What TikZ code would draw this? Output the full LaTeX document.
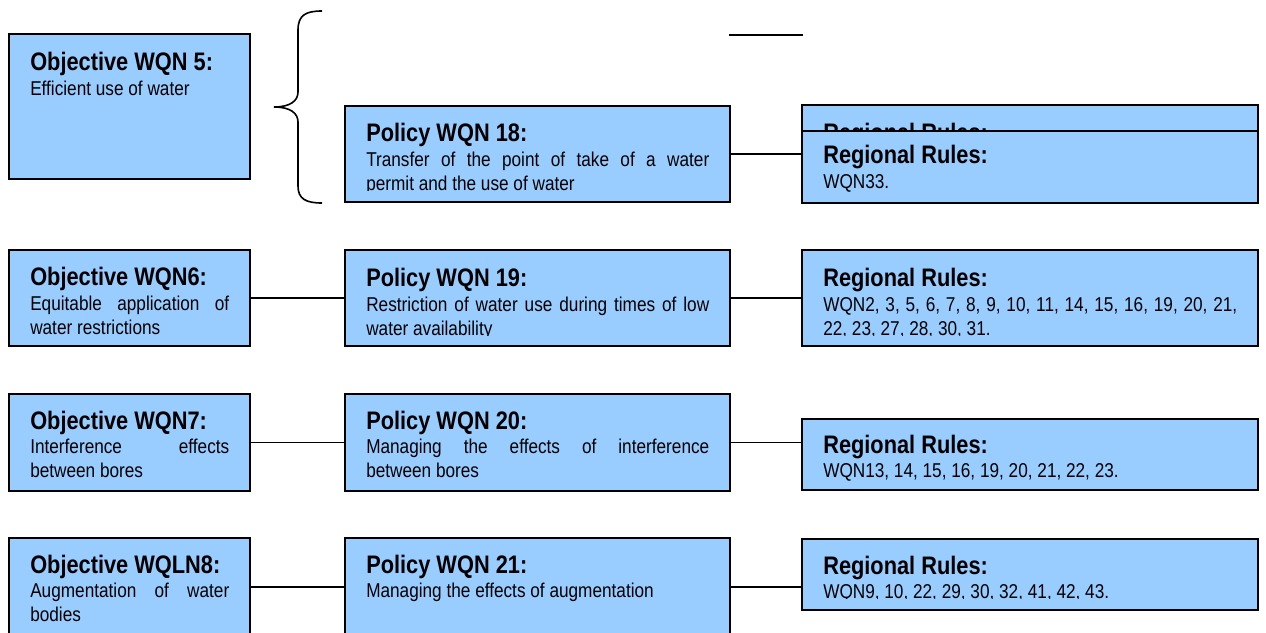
\documentclass[tikz,border=0pt]{standalone}
\usepackage{fontspec}
\setmainfont{Liberation Sans}[FakeStretch=0.86]
\usetikzlibrary{fit,calc}

\definecolor{cardblue}{RGB}{153,204,255}
\newcommand\cardhead{\bfseries\fontsize{19}{22}\selectfont}
\newcommand\cardbody{\fontsize{15}{18.2}\selectfont}

% Text of one card, clipped to the card's inner frame.
% #1 card node, #2 heading baseline below the top, #3 text width,
% #4 bottom inset of the frame, #5 heading, #6 body
\newcommand\cardtext[6]{%
  \begin{scope}
    \clip ($(#1.south west)+(0,-#4)$) rectangle (#1.north east);
    \node[headline] (#1-head) at ($(#1.north west)+(21,#2)$) {#5};
    \node[bodytext,text width=#3] (#1-body) at ($(#1.north west)+(21,#2+24.5)$) {#6};
  \end{scope}}

\tikzset{
  card/.style={draw=black, fill=cardblue, line width=1.5pt, inner sep=0pt, outer sep=0pt},
  headline/.style={anchor=base west, inner sep=0pt, font=\cardhead},
  bodytext/.style={anchor=base west, inner sep=0pt, font=\cardbody, align=justify},
  link/.style={draw=black, line width=1.2pt},
}

\begin{document}
\begin{tikzpicture}[x=0.75pt, y=-0.75pt]
  \useasboundingbox (0,0) rectangle (1266,632);
  \clip (0,0) rectangle (1266,632);

  % ---- objective WQN 5 and its brace
  \node[card, fit={(9,34)(250,179)}] (o5) {};
  \cardtext{o5}{36.5}{149.25pt}{8}{Objective WQN 5:}{Efficient use of water}

  \draw[line width=1.2pt] (322,11) .. controls (306,11) and (298,15) .. (298,30)
    -- (298,92) .. controls (298,101) and (290,107) .. (274,107)
    .. controls (290,107) and (298,113) .. (298,122)
    -- (298,186) .. controls (298,199) and (306,203) .. (322,203);

  \coordinate (s1) at (729,35);
  \coordinate (s2) at (803,35);
  \draw[link] (s1) -- (s2);

  % ---- policy WQN 18
  \node[card, fit={(345,106)(730,202)}] (p18) {};
  \cardtext{p18}{35.5}{257.25pt}{11.5}{Policy WQN 18:}{Transfer of the point of take of a water\linebreak permit and the use of water}

  \node[card, fit={(802,105)(1258,180)}] (r18a) {};
  \cardtext{r18a}{36}{310.5pt}{8}{Regional Rules:}{}
  \node[card, fit={(802,131)(1258,203)}] (r18) {};
  \cardtext{r18}{32.5}{310.5pt}{8}{Regional Rules:}{WQN33.}
  \draw[link] (p18.east) -- (p18.east -| r18.west);

  % ---- objective WQN 6
  \node[card, fit={(9,250)(250,346)}] (o6) {};
  \cardtext{o6}{35.5}{149.25pt}{8}{Objective WQN6:}{Equitable application of\linebreak water restrictions}
  \node[card, fit={(345,250)(730,346)}] (p19) {};
  \cardtext{p19}{36.5}{257.25pt}{10.5}{Policy WQN 19:}{Restriction of water use during times of low\linebreak water availability}
  \node[card, fit={(802,250)(1258,346)}] (r19) {};
  \cardtext{r19}{36.5}{310.5pt}{10.5}{Regional Rules:}{WQN2, 3, 5, 6, 7, 8, 9, 10, 11, 14, 15, 16, 19, 20, 21,\linebreak 22, 23, 27, 28, 30, 31.}
  \draw[link] (o6.east) -- (p19.west);
  \draw[link] (p19.east) -- (r19.west);

  % ---- objective WQN 7
  \node[card, fit={(9,394)(250,491)}] (o7) {};
  \cardtext{o7}{35}{149.25pt}{8}{Objective WQN7:}{Interference effects\linebreak between bores}
  \node[card, fit={(345,394)(730,491)}] (p20) {};
  \cardtext{p20}{35}{257.25pt}{8}{Policy WQN 20:}{Managing the effects of interference\linebreak between bores}
  \node[card, fit={(802,419)(1258,490)}] (r20) {};
  \cardtext{r20}{34}{310.5pt}{6}{Regional Rules:}{WQN13, 14, 15, 16, 19, 20, 21, 22, 23.}
  \draw[link] (o7.east) -- (p20.west);
  \draw[link] (p20.east) -- (p20.east -| r20.west);

  % ---- objective WQLN 8
  \node[card, fit={(9,538)(250,636)}] (o8) {};
  \cardtext{o8}{35}{149.25pt}{8}{Objective WQLN8:}{Augmentation of water\linebreak bodies}
  \node[card, fit={(345,538)(730,636)}] (p21) {};
  \cardtext{p21}{35}{257.25pt}{8}{Policy WQN 21:}{Managing the effects of augmentation}
  \node[card, fit={(802,539)(1258,610)}] (r21) {};
  \cardtext{r21}{35}{310.5pt}{11.5}{Regional Rules:}{WQN9, 10, 22, 29, 30, 32, 41, 42, 43.}
  \draw[link] (o8.east) -- (p21.west);
  \draw[link] (p21.east) -- (p21.east -| r21.west);
\end{tikzpicture}
\end{document}
